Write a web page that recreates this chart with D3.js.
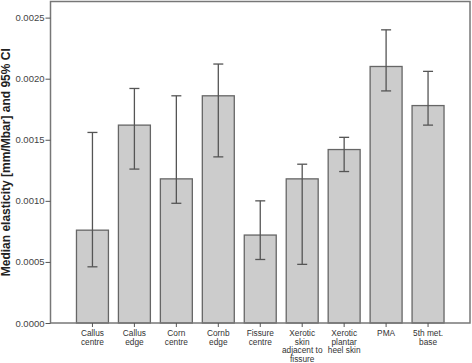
<!DOCTYPE html>
<html><head><meta charset="utf-8">
<script src="https://cdn.jsdelivr.net/npm/d3@7"></script>
<style>body{margin:0;background:#fff;}svg{display:block;font-family:"Liberation Sans",Arial,sans-serif;}</style>
</head><body>
<svg id="c" width="472" height="363"></svg>
<script>
const categories = [["Callus","centre"],["Callus","edge"],["Corn","centre"],["Cornb","edge"],["Fissure","centre"],["Xerotic","skin","adjacent to","fissure"],["Xerotic","plantar","heel skin"],["PMA"],["5th met.","base"]];
const medians = [0.00076,0.00162,0.00118,0.00186,0.00072,0.00118,0.00142,0.00210,0.00178];
const lowerCI = [0.00046,0.00126,0.00098,0.00136,0.00052,0.00048,0.00124,0.00190,0.00162];
const upperCI = [0.00156,0.00192,0.00186,0.00212,0.00100,0.00130,0.00152,0.00240,0.00206];
const yTicks = [0,0.0005,0.0010,0.0015,0.0020,0.0025];
const yLabel = "Median elasticity [mm/Mbar] and 95% CI";

const svg = d3.select("#c");
const L=50.5, R=470, T=1.5, B=323;
const ids = categories.map((c,i)=>i);
const x = d3.scaleBand().domain(ids).range([L,R]).paddingInner(0.238).paddingOuter(0.619);
const y = d3.scaleLinear().domain([0,0.002632]).range([B,T]);

// bars
svg.append("g").selectAll("rect").data(ids).join("rect")
  .attr("x",i=>x(i)).attr("width",x.bandwidth())
  .attr("y",i=>y(medians[i])).attr("height",i=>B-y(medians[i]))
  .attr("fill","#cccccc").attr("stroke","#666").attr("stroke-width",1.3);

// error bars
const eb = svg.append("g").attr("stroke","#555").attr("stroke-width",1.3);
ids.forEach(i=>{
  const cx = x(i)+x.bandwidth()/2;
  eb.append("line").attr("x1",cx).attr("x2",cx).attr("y1",y(lowerCI[i])).attr("y2",y(upperCI[i]));
  [lowerCI[i],upperCI[i]].forEach(v=>eb.append("line").attr("x1",cx-5).attr("x2",cx+5).attr("y1",y(v)).attr("y2",y(v)));
});

// frame
svg.append("rect").attr("x",L).attr("y",T).attr("width",R-L).attr("height",B-T)
  .attr("fill","none").attr("stroke","#777").attr("stroke-width",1.5);

// y axis
const ya = svg.append("g").attr("transform",`translate(${L},0)`)
  .call(d3.axisLeft(y).tickValues(yTicks).tickSize(5).tickSizeOuter(0).tickFormat(d3.format(".4f")));
ya.select(".domain").remove();
ya.selectAll(".tick line").attr("stroke","#555");
ya.selectAll(".tick text").attr("font-size","9.5px").attr("fill","#444").attr("font-family","Liberation Sans, Arial, sans-serif").attr("x",-6);

// x axis
const xa = svg.append("g").attr("transform",`translate(0,${B})`)
  .call(d3.axisBottom(x).tickSize(4).tickSizeOuter(0).tickFormat(""));
xa.select(".domain").remove();
xa.selectAll(".tick line").attr("stroke","#555");
xa.selectAll(".tick").each(function(i){
  const t = d3.select(this).append("text").attr("fill","#333").attr("font-size","8.3px")
    .attr("text-anchor","middle").attr("font-family","Liberation Sans, Arial, sans-serif");
  categories[i].forEach((s,k)=>t.append("tspan").attr("x",0).attr("y",12.8+k*8.8).text(s));
});

// y label
svg.append("text").attr("transform",`translate(10,${(T+B)/2}) rotate(-90)`)
  .attr("text-anchor","middle").attr("font-size","12px").attr("font-weight","bold").attr("fill","#222")
  .text(yLabel);
</script>
</body></html>
